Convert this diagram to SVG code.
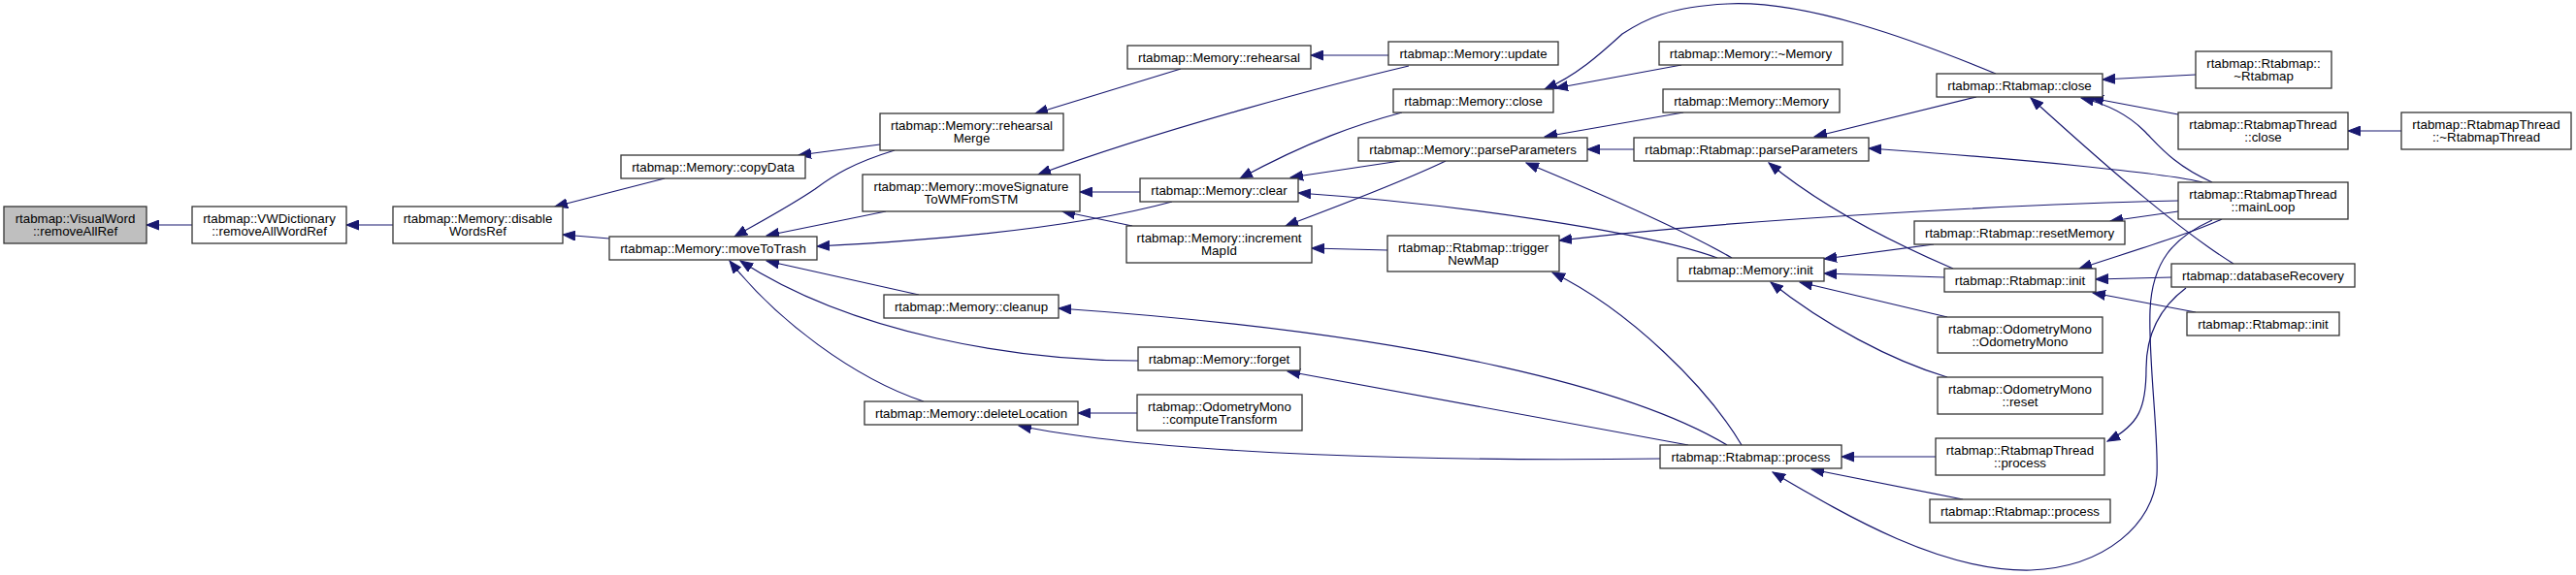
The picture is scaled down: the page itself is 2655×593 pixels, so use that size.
<svg xmlns="http://www.w3.org/2000/svg" width="2655" height="593" viewBox="0 0 2655 593">
<style>
.node rect{fill:#ffffff;stroke:#333333;stroke-width:1.3}
.node.root rect{fill:#bfbfbf}
.node text{font-family:"Liberation Sans",Arial,Helvetica,sans-serif;font-size:13.3px;text-anchor:middle;fill:#000000}
.edges path{fill:none;stroke:#191970;stroke-width:1.2;marker-end:url(#ah)}
</style>
<defs>
<marker id="ah" markerUnits="userSpaceOnUse" markerWidth="14" markerHeight="11" refX="13" refY="5" orient="auto" viewBox="0 0 14 10">
<path d="M0,0 L13,5 L0,10 z" fill="#191970" stroke="#191970" stroke-width="1"/>
</marker>
</defs>
<rect x="0" y="0" width="2655" height="593" fill="#ffffff"/>
<g class="edges" id="edges">
<path d="M198,232 L151,232"/>
<path d="M405,232 L357,232"/>
<path d="M685,184 L572,213"/>
<path d="M628,246 L580,242"/>
<path d="M907,149 L823,160"/>
<path d="M922,155 C880,168 860,180 840,195 C815,212 785,228 757,244"/>
<path d="M913,218 L790,243"/>
<path d="M1208,208 C1120,232 1000,246 842,254"/>
<path d="M947,304 L790,269"/>
<path d="M1173,372 C1050,372 880,345 763,269"/>
<path d="M952,414 C880,390 800,330 752,269"/>
<path d="M1217,71 L1067,117"/>
<path d="M1431,57 L1351,57"/>
<path d="M1452,68 C1380,85 1200,132 1070,180"/>
<path d="M1175,198 L1113,198"/>
<path d="M1167,233 L1095,218"/>
<path d="M1445,116 C1400,128 1350,145 1278,184"/>
<path d="M1443,166 L1330,183"/>
<path d="M1490,166 C1440,190 1380,212 1325,233"/>
<path d="M1430,258 L1352,256"/>
<path d="M1770,266 C1700,240 1500,210 1338,199"/>
<path d="M1785,266 C1740,240 1650,200 1573,168"/>
<path d="M2245,207 C2100,210 1800,225 1607,248"/>
<path d="M1795,459 C1760,400 1680,320 1600,281"/>
<path d="M1733,67 L1603,91"/>
<path d="M2057,76 C1970,40 1860,0 1780,4 C1720,7 1695,20 1672,35 C1650,55 1625,78 1592,92"/>
<path d="M1735,116 L1592,141"/>
<path d="M1684,154 L1636,154"/>
<path d="M2037,100 L1870,141"/>
<path d="M2270,188 C2240,180 2100,165 1926,153"/>
<path d="M2013,277 C1950,250 1880,215 1823,168"/>
<path d="M2263,77 L2167,82"/>
<path d="M2245,118 L2155,101"/>
<path d="M2280,188 C2240,170 2225,150 2210,135 C2195,120 2175,108 2145,101"/>
<path d="M2302,272 C2250,240 2180,180 2093,101"/>
<path d="M2475,135 L2420,135"/>
<path d="M1993,252 L1880,267"/>
<path d="M2004,286 L1880,282"/>
<path d="M2007,327 L1855,291"/>
<path d="M2007,389 C1950,372 1880,335 1825,291"/>
<path d="M2245,218 L2175,228"/>
<path d="M2290,226 C2260,240 2210,255 2143,277"/>
<path d="M2238,286 L2160,288"/>
<path d="M2263,322 L2157,302"/>
<path d="M1995,471 L1898,471"/>
<path d="M2023,515 L1867,484"/>
<path d="M1780,459 C1690,405 1480,345 1091,318"/>
<path d="M1740,459 L1327,383"/>
<path d="M1711,473 C1500,476 1200,470 1050,439"/>
<path d="M1172,426 L1111,426"/>
<path d="M2280,227 C2240,245 2218,270 2216,320 C2214,370 2225,450 2223,490 C2220,540 2170,585 2093,588 C2000,590 1900,530 1827,487"/>
<path d="M2253,297 C2225,318 2212,345 2212,380 C2212,420 2205,438 2172,455"/>
</g>
<g class="node root" id="n1"><rect x="4" y="213" width="147" height="38"/><text x="77.5" y="230">rtabmap::VisualWord</text><text x="77.5" y="243.3">::removeAllRef</text></g>
<g class="node" id="n2"><rect x="198" y="213" width="159" height="38"/><text x="277.5" y="230">rtabmap::VWDictionary</text><text x="277.5" y="243.3">::removeAllWordRef</text></g>
<g class="node" id="n3"><rect x="405" y="213" width="175" height="38"/><text x="492.5" y="230">rtabmap::Memory::disable</text><text x="492.5" y="243.3">WordsRef</text></g>
<g class="node" id="n4"><rect x="640" y="160" width="190" height="24"/><text x="735" y="176.7">rtabmap::Memory::copyData</text></g>
<g class="node" id="n5"><rect x="628" y="244" width="214" height="24"/><text x="735" y="260.7">rtabmap::Memory::moveToTrash</text></g>
<g class="node" id="n6"><rect x="907" y="117" width="189" height="38"/><text x="1001.5" y="134">rtabmap::Memory::rehearsal</text><text x="1001.5" y="147.3">Merge</text></g>
<g class="node" id="n7"><rect x="889" y="180" width="224" height="38"/><text x="1001" y="197">rtabmap::Memory::moveSignature</text><text x="1001" y="210.3">ToWMFromSTM</text></g>
<g class="node" id="n8"><rect x="911" y="304" width="180" height="24"/><text x="1001" y="320.7">rtabmap::Memory::cleanup</text></g>
<g class="node" id="n9"><rect x="891" y="414" width="220" height="24"/><text x="1001" y="430.7">rtabmap::Memory::deleteLocation</text></g>
<g class="node" id="n10"><rect x="1162" y="47" width="189" height="24"/><text x="1256.5" y="63.7">rtabmap::Memory::rehearsal</text></g>
<g class="node" id="n11"><rect x="1175" y="184" width="163" height="24"/><text x="1256.5" y="200.7">rtabmap::Memory::clear</text></g>
<g class="node" id="n12"><rect x="1161" y="233" width="191" height="38"/><text x="1256.5" y="250">rtabmap::Memory::increment</text><text x="1256.5" y="263.3">MapId</text></g>
<g class="node" id="n13"><rect x="1173" y="358" width="167" height="24"/><text x="1256.5" y="374.7">rtabmap::Memory::forget</text></g>
<g class="node" id="n14"><rect x="1172" y="407" width="170" height="37"/><text x="1257" y="423.5">rtabmap::OdometryMono</text><text x="1257" y="436.8">::computeTransform</text></g>
<g class="node" id="n15"><rect x="1431" y="43" width="175" height="24"/><text x="1518.5" y="59.7">rtabmap::Memory::update</text></g>
<g class="node" id="n16"><rect x="1436" y="92" width="165" height="24"/><text x="1518.5" y="108.7">rtabmap::Memory::close</text></g>
<g class="node" id="n17"><rect x="1400" y="142" width="236" height="24"/><text x="1518" y="158.7">rtabmap::Memory::parseParameters</text></g>
<g class="node" id="n18"><rect x="1430" y="243" width="177" height="37"/><text x="1518.5" y="259.5">rtabmap::Rtabmap::trigger</text><text x="1518.5" y="272.8">NewMap</text></g>
<g class="node" id="n19"><rect x="1710" y="43" width="189" height="24"/><text x="1804.5" y="59.7">rtabmap::Memory::~Memory</text></g>
<g class="node" id="n20"><rect x="1714" y="92" width="182" height="24"/><text x="1805" y="108.7">rtabmap::Memory::Memory</text></g>
<g class="node" id="n21"><rect x="1684" y="142" width="242" height="24"/><text x="1805" y="158.7">rtabmap::Rtabmap::parseParameters</text></g>
<g class="node" id="n22"><rect x="1729" y="266" width="151" height="24"/><text x="1804.5" y="282.7">rtabmap::Memory::init</text></g>
<g class="node" id="n23"><rect x="1711" y="459" width="187" height="24"/><text x="1804.5" y="475.7">rtabmap::Rtabmap::process</text></g>
<g class="node" id="n24"><rect x="1996" y="76" width="171" height="24"/><text x="2081.5" y="92.7">rtabmap::Rtabmap::close</text></g>
<g class="node" id="n25"><rect x="1973" y="228" width="217" height="24"/><text x="2081.5" y="244.7">rtabmap::Rtabmap::resetMemory</text></g>
<g class="node" id="n26"><rect x="2004" y="277" width="156" height="24"/><text x="2082" y="293.7">rtabmap::Rtabmap::init</text></g>
<g class="node" id="n27"><rect x="1997" y="327" width="170" height="37"/><text x="2082" y="343.5">rtabmap::OdometryMono</text><text x="2082" y="356.8">::OdometryMono</text></g>
<g class="node" id="n28"><rect x="1997" y="389" width="170" height="38"/><text x="2082" y="406">rtabmap::OdometryMono</text><text x="2082" y="419.3">::reset</text></g>
<g class="node" id="n29"><rect x="1995" y="452" width="174" height="38"/><text x="2082" y="469">rtabmap::RtabmapThread</text><text x="2082" y="482.3">::process</text></g>
<g class="node" id="n30"><rect x="1989" y="515" width="186" height="24"/><text x="2082" y="531.7">rtabmap::Rtabmap::process</text></g>
<g class="node" id="n31"><rect x="2263" y="53" width="140" height="38"/><text x="2333" y="70">rtabmap::Rtabmap::</text><text x="2333" y="83.3">~Rtabmap</text></g>
<g class="node" id="n32"><rect x="2245" y="116" width="175" height="38"/><text x="2332.5" y="133">rtabmap::RtabmapThread</text><text x="2332.5" y="146.3">::close</text></g>
<g class="node" id="n33"><rect x="2245" y="188" width="175" height="38"/><text x="2332.5" y="205">rtabmap::RtabmapThread</text><text x="2332.5" y="218.3">::mainLoop</text></g>
<g class="node" id="n34"><rect x="2238" y="272" width="189" height="24"/><text x="2332.5" y="288.7">rtabmap::databaseRecovery</text></g>
<g class="node" id="n35"><rect x="2254" y="322" width="157" height="24"/><text x="2332.5" y="338.7">rtabmap::Rtabmap::init</text></g>
<g class="node" id="n36"><rect x="2475" y="116" width="175" height="38"/><text x="2562.5" y="133">rtabmap::RtabmapThread</text><text x="2562.5" y="146.3">::~RtabmapThread</text></g>
</svg>
